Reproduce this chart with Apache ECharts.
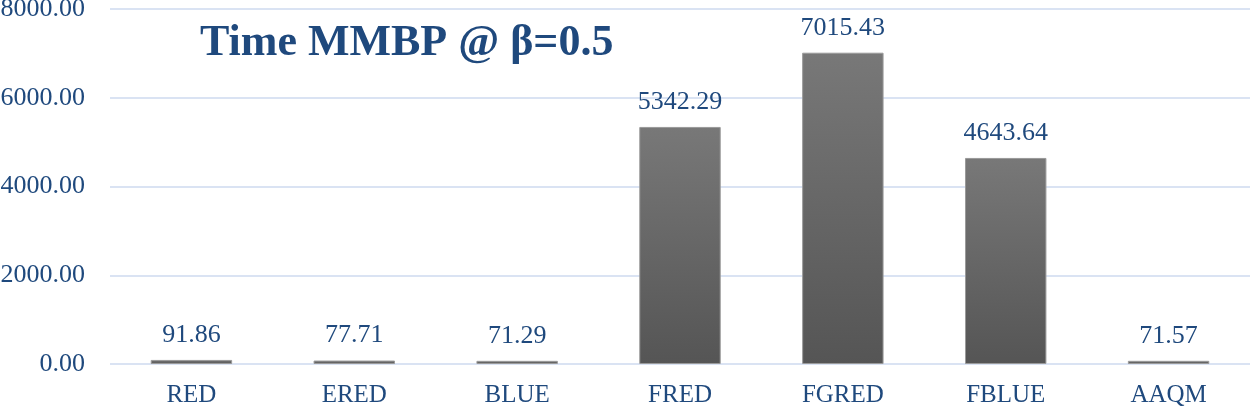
<!DOCTYPE html>
<html>
<head>
<meta charset="utf-8">
<script src="https://cdn.jsdelivr.net/npm/echarts@6/dist/echarts.min.js"></script>
<style>
  html, body { margin: 0; padding: 0; background: #fff; }
  #main { width: 1250px; height: 409px; }
</style>
</head>
<body>
<div id="main"></div>
<script>
var categories = ['RED', 'ERED', 'BLUE', 'FRED', 'FGRED', 'FBLUE', 'AAQM']
var times = [91.86, 77.71, 71.29, 5342.29, 7015.43, 4643.64, 71.57]
var yTicks = [0, 2000, 4000, 6000, 8000]

var textBlue = '#1f497d'
var serif = '"Liberation Serif", "DejaVu Serif", serif'

var myChart = echarts.init(document.querySelector('#main'))
var option = {
    animation: false,
    title: {
        text: 'Time MMBP @ \u03b2=0.5',
        left: 195,
        top: 17,
        textStyle: {
            fontFamily: serif,
            fontWeight: 'bold',
            fontSize: 44,
            color: textBlue
        }
    },
    grid: {
        left: 110,
        right: 0,
        top: 9,
        bottom: 45,
        outerBoundsMode: 'none'
    },
    xAxis: {
        type: 'category',
        data: categories,
        axisLine: { show: false },
        axisTick: { show: false },
        axisLabel: {
            fontFamily: serif,
            fontSize: 25,
            color: textBlue,
            margin: 19
        }
    },
    yAxis: {
        type: 'value',
        min: yTicks[0],
        max: yTicks[yTicks.length - 1],
        interval: 2000,
        axisLabel: {
            fontFamily: serif,
            fontSize: 26,
            color: textBlue,
            margin: 25,
            formatter: function (v) { return v.toFixed(2) }
        },
        splitLine: { lineStyle: { color: '#dae3f3', width: 2 } }
    },
    series: [
        {
            type: 'bar',
            data: times,
            barWidth: '50%',
            itemStyle: {
                color: new echarts.graphic.LinearGradient(0, 0, 0, 1, [
                    { offset: 0, color: '#787878' },
                    { offset: 1, color: '#555555' }
                ]),
                borderColor: '#9a9a9a',
                borderWidth: 1
            },
            label: {
                show: true,
                position: 'top',
                distance: 12,
                fontFamily: serif,
                fontSize: 26,
                color: textBlue,
                formatter: function (p) { return p.value.toFixed(2) }
            }
        }
    ]
}
myChart.setOption(option)
window.addEventListener('resize', function () {
    myChart.resize()
})
</script>
</body>
</html>
